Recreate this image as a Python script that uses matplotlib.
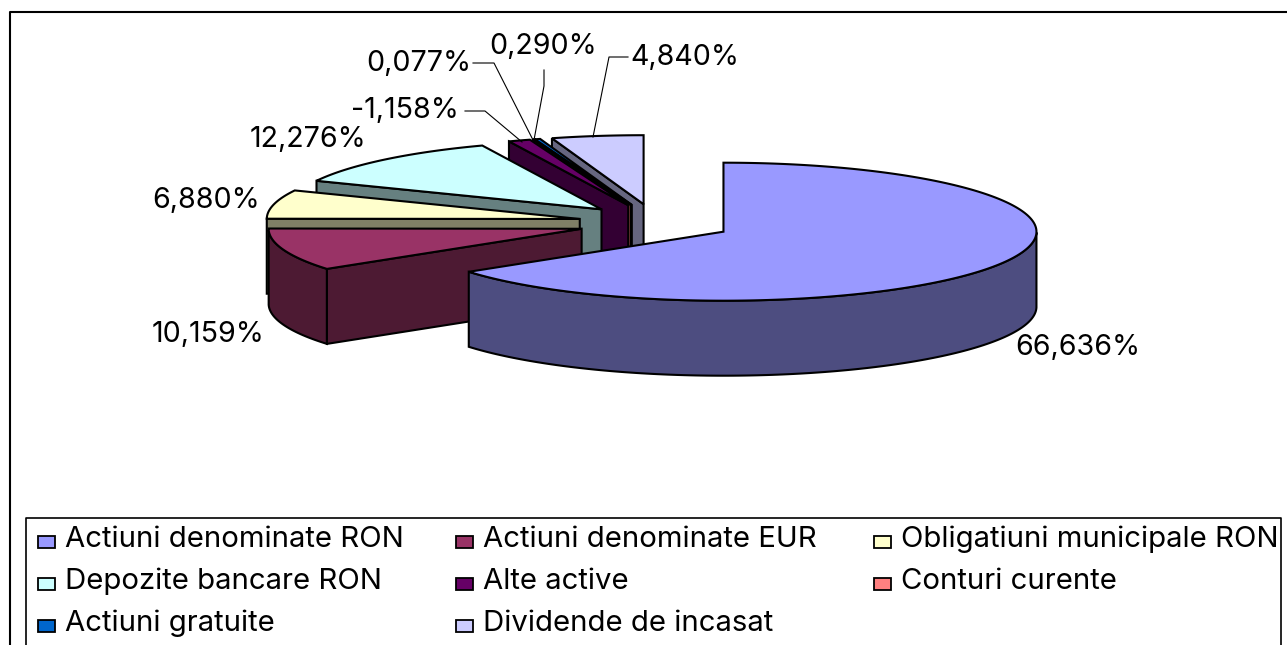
import numpy as np
import matplotlib
matplotlib.use("Agg")
import matplotlib.pyplot as plt
from matplotlib.patches import Polygon, Rectangle

# Dados
categorias = ["Actiuni denominate RON", "Actiuni denominate EUR", "Obligatiuni municipale RON",
              "Depozite bancare RON", "Alte active", "Conturi curente",
              "Actiuni gratuite", "Dividende de incasat"]
valores = [66.636, 10.159, 6.880, 12.276, -1.158, 0.077, 0.290, 4.840]
rotulos = ["66,636%", "10,159%", "6,880%", "12,276%", "-1,158%", "0,077%", "0,290%", "4,840%"]
cores = ["#9999FF", "#993366", "#FFFFCC", "#CCFFFF", "#660066", "#FF8080", "#0066CC", "#CCCCFF"]
cores_lado = ["#4D4D80", "#4D1A33", "#808066", "#668080", "#330033", "#804040", "#003366", "#666680"]

# Layout em pixels
cx, cy = 655, 223
rx, ry = 313, 69
expl_x, expl_y = 77, 19
prof = 75
fonte = "Inter"
tam_rot = 20.6
tam_leg = 21.1

pos_rotulos = [(1078, 355), (208, 342), (206, 208), (308, 147), (405, 118), (419, 71), (543, 54), (685, 65)]
guias = {
    4: [(465, 111), (485, 111), (522, 142)],
    5: [(473, 63), (494, 63), (533, 140)],
    6: [(544, 70), (544, 86), (534, 140)],
    7: [(628, 57), (609, 57), (593, 137)],
}
leg_x = [38, 456, 874]
leg_y = [542, 584, 626]

fig = plt.figure(figsize=(12.87, 6.45), dpi=100)
ax = fig.add_axes([0, 0, 1, 1])
ax.set_xlim(0, 1287)
ax.set_ylim(645, 0)
ax.axis("off")

# Moldura do grafico e da legenda
ax.plot([10, 10, 1287], [645, 11.5, 11.5], color="black", lw=1.5, zorder=1)
ax.plot([26, 26, 1281, 1281], [645, 517.5, 517.5, 645], color="black", lw=1.2, zorder=1)

# Fatias: o Excel usa o valor absoluto
absolutos = np.abs(valores)
angulos = np.concatenate([[0], np.cumsum(absolutos) / absolutos.sum() * 2 * np.pi])


def borda(ax0, ay0, a):
    return ax0 + rx * np.sin(a), ay0 - ry * np.cos(a)


# Desenha de tras para frente
for i in range(len(valores) - 1, -1, -1):
    a0, a1 = angulos[i], angulos[i + 1]
    meio = (a0 + a1) / 2
    ax0 = cx + expl_x * np.sin(meio)
    ay0 = cy - expl_y * np.cos(meio)
    arco = np.linspace(a0, a1, max(4, int(np.degrees(a1 - a0))))
    xs, ys = borda(ax0, ay0, arco)
    z = 10 + (len(valores) - i) * 3

    # Lateral externa, so a parte voltada para a frente
    frente = arco[np.cos(arco) <= 0]
    if len(frente) > 1:
        fx, fy = borda(ax0, ay0, frente)
        lado = np.column_stack([np.r_[fx, fx[::-1]], np.r_[fy, fy[::-1] + prof]])
        ax.add_patch(Polygon(lado, facecolor=cores_lado[i], edgecolor="black", lw=1.5, zorder=z))

    # Parede radial inicial (a da primeira fatia fica de perfil)
    if i > 0:
        bx, by = borda(ax0, ay0, a0)
        parede = [(ax0, ay0), (bx, by), (bx, by + prof), (ax0, ay0 + prof)]
        ax.add_patch(Polygon(parede, facecolor=cores_lado[i], edgecolor="black", lw=1.5, zorder=z + 1))

    # Topo
    topo = np.column_stack([np.r_[ax0, xs], np.r_[ay0, ys]])
    ax.add_patch(Polygon(topo, facecolor=cores[i], edgecolor="black", lw=1.5, zorder=z + 2))

# Rotulos e linhas guia
for (x, y), r in zip(pos_rotulos, rotulos):
    ax.text(x, y, r, family=fonte, fontsize=tam_rot, ha="center", va="baseline", color="black", zorder=60)
for pts in guias.values():
    ax.plot(*zip(*pts), color="black", lw=0.8, zorder=50)

# Legenda
for i, nome in enumerate(categorias):
    x = leg_x[i % 3]
    y = leg_y[i // 3]
    ax.add_patch(Rectangle((x, y - 6), 17, 12, facecolor=cores[i], edgecolor="black", lw=1.3, zorder=60))
    ax.text(x + 27, y + 5, nome, family=fonte, fontsize=tam_leg, ha="left", va="baseline", color="black", zorder=60)

fig.savefig("out.png", dpi=100)
